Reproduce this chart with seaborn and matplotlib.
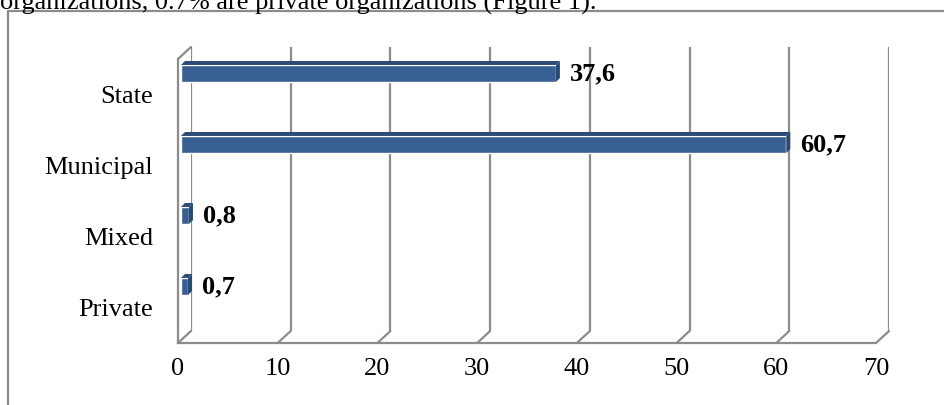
import matplotlib
matplotlib.use("Agg")
import matplotlib.pyplot as plt
import seaborn as sns
import pandas as pd
from matplotlib.patches import Polygon
from matplotlib.lines import Line2D
from matplotlib.transforms import IdentityTransform

# ---- data ----
categories = ["State", "Municipal", "Mixed", "Private"]
values = [37.6, 60.7, 0.8, 0.7]
value_labels = ["37,6", "60,7", "0,8", "0,7"]
x_ticks = [0, 10, 20, 30, 40, 50, 60, 70]
caption = "organizations, 0.7% are private organizations (Figure 1)."

df = pd.DataFrame({"category": categories, "value": values})

sns.set_theme(style="white")
plt.rcParams["font.family"] = ["Liberation Serif", "DejaVu Serif"]

GRID = "#8c8c8c"
BAR = "#375f92"
BAR_TOP = "#2c4c78"
BAR_END = "#2a4a76"
FS = 19

W, H = 945, 405
fig = plt.figure(figsize=(W / 100, H / 100), dpi=100)


def rect(l, t, r, b):
    return [l / W, 1 - b / H, (r - l) / W, (b - t) / H]


FL, FT, FR, FB = 178, 59, 876, 343
DX, DY = 13, 12

# back wall gridlines
back = fig.add_axes(rect(FL + DX, FT - DY, FR + DX, FB - DY))
back.set_xlim(0, 70)
back.set_ylim(0, 1)
for v in x_ticks:
    back.axvline(v, color=GRID, lw=1.6)
back.axis("off")

# front axes (ticks, labels, floor)
ax = fig.add_axes(rect(FL, FT, FR, FB))
ax.set_facecolor("none")
ax.set_xlim(0, 70)
ax.set_ylim(len(categories) - 0.5, -0.5)
ax.set_xticks(x_ticks)
ax.set_xticklabels([str(v) for v in x_ticks], fontsize=FS)
ax.set_yticks([i - 0.5 for i in range(len(categories) + 1)])
ax.set_yticklabels([])
ax.set_yticks(range(len(categories)), minor=True)
ax.set_yticklabels(categories, minor=True, fontsize=FS)
for s in ["top", "right"]:
    ax.spines[s].set_visible(False)
for s in ["left", "bottom"]:
    ax.spines[s].set_color(GRID)
    ax.spines[s].set_linewidth(1.6)
ax.tick_params(axis="x", which="major", direction="out", length=5, width=1.6,
               color=GRID, labelcolor="black", pad=6)
ax.tick_params(axis="y", which="major", direction="out", length=5, width=1.6,
               color=GRID)
ax.tick_params(axis="y", which="minor", length=0, pad=18, labelcolor="black")

# depth lines (floor and left wall)
pts = [ax.transData.transform((v, len(categories) - 0.5)) for v in x_ticks]
pts.append(ax.transData.transform((0, -0.5)))
for (px, py) in pts:
    fig.add_artist(Line2D([px, px + DX], [py, py + DY], color=GRID, lw=1.6,
                          transform=IdentityTransform()))

# bars
bax = fig.add_axes(rect(FL + 3, FT - 21, FR + 3, FB - 21))
sns.barplot(data=df, x="value", y="category", orient="h", order=categories,
            color=BAR, saturation=1, width=0.24, ax=bax)
bax.set_xlim(0, 70)
bax.set_ylim(len(categories) - 0.5, -0.5)
bax.axis("off")
bax.set_facecolor("none")

d = 4
for patch in bax.patches:
    x0, y0 = patch.get_x(), patch.get_y()
    w, h = patch.get_width(), patch.get_height()
    (dx0, dy0) = bax.transData.transform((x0, y0 + h))  # bottom (display)
    (dx1, dy1) = bax.transData.transform((x0 + w, y0))  # top (display)
    top = [(dx0, dy1), (dx1, dy1), (dx1 + d, dy1 + d), (dx0 + d, dy1 + d)]
    end = [(dx1, dy0), (dx1, dy1), (dx1 + d, dy1 + d), (dx1 + d, dy0 + d)]
    fig.add_artist(Polygon(top, closed=True, facecolor=BAR_TOP, edgecolor="none",
                           transform=IdentityTransform()))
    fig.add_artist(Polygon(end, closed=True, facecolor=BAR_END, edgecolor="none",
                           transform=IdentityTransform()))

for i, (v, lab) in enumerate(zip(values, value_labels)):
    bax.annotate(lab, xy=(v, i), xytext=(10, 0), textcoords="offset points",
                 ha="left", va="center", fontsize=FS, fontweight="bold",
                 color="black", annotation_clip=False)

# frame and caption (caption is cut at the top edge, as in the source)
fig.add_artist(Line2D([8 / W, 1], [1 - 11 / H, 1 - 11 / H], color=GRID, lw=1.6,
                      transform=fig.transFigure))
fig.add_artist(Line2D([8 / W, 8 / W], [1 - 11 / H, 0], color=GRID, lw=1.6,
                      transform=fig.transFigure))
fig.text(596 / W, 1 - 10 / H, caption, ha="right", va="baseline", fontsize=FS,
         color="black")

fig.savefig("out.png", dpi=100)
